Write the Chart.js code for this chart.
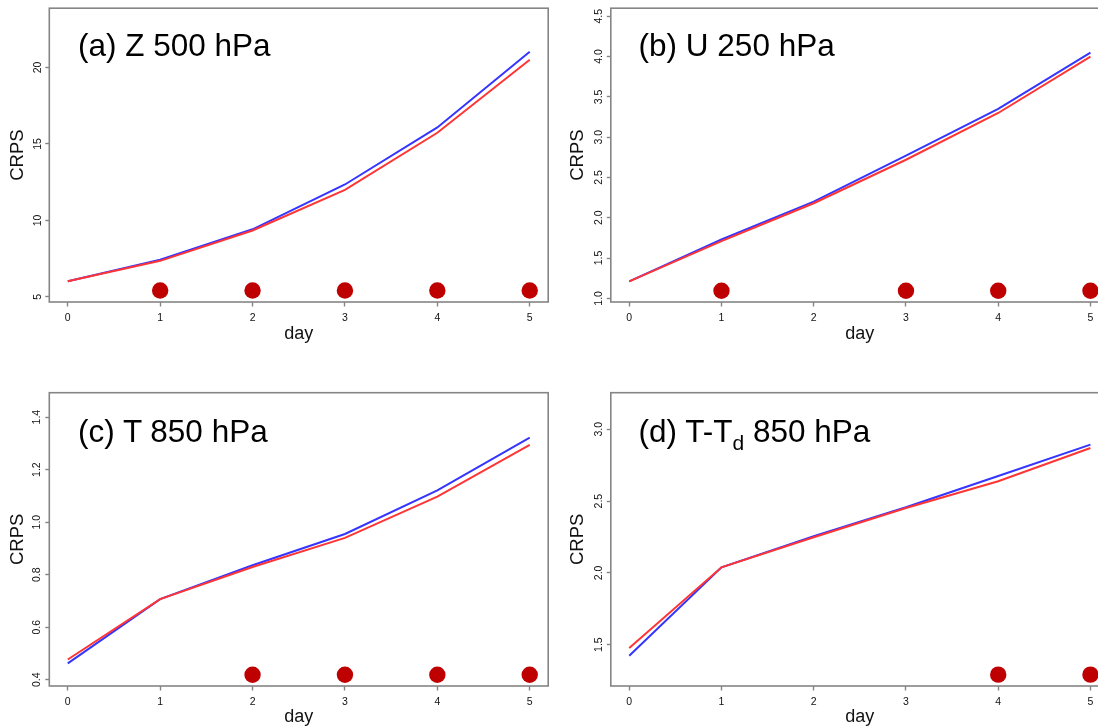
<!DOCTYPE html>
<html><head><meta charset="utf-8">
<script src="https://cdn.jsdelivr.net/npm/chart.js@4"></script>
<style>
html,body{margin:0;padding:0;background:#fff;overflow:hidden;width:1098px;height:728px;position:relative;}
canvas{position:absolute;}
.lbl{position:absolute;font-family:"Liberation Sans",Arial,sans-serif;font-size:31.5px;line-height:31.5px;color:#000;white-space:nowrap;}
.sub{font-size:21px;position:relative;top:8px;}
</style></head><body>
<canvas id="pa" width="560" height="364" style="left:0;top:0"></canvas>
<canvas id="pc" width="560" height="364" style="left:0;top:364px"></canvas>
<canvas id="pb" width="570" height="364" style="left:549px;top:0"></canvas>
<canvas id="pd" width="570" height="364" style="left:549px;top:364px"></canvas>
<div class="lbl" style="left:78px;top:30.3px">(a) Z 500 hPa</div>
<div class="lbl" style="left:638.6px;top:30.3px">(b) U 250 hPa</div>
<div class="lbl" style="left:78px;top:416px">(c) T 850 hPa</div>
<div class="lbl" style="left:638.6px;top:416px">(d) T-T<span class="sub">d</span> 850 hPa</div>
<script>
// ---- data ----
const days = [0, 1, 2, 3, 4, 5];
const xTicks = [0, 1, 2, 3, 4, 5];
const xTickLabels = ['0', '1', '2', '3', '4', '5'];

const zBlue = [6.02, 7.43, 9.42, 12.35, 16.08, 21.02];
const zRed  = [6.02, 7.36, 9.34, 12.00, 15.73, 20.50];
const zDotDays = [1, 2, 3, 4, 5];
const zDotLevel = 5.42;
const zTicks = [5, 10, 15, 20];
const zTickLabels = ['5', '10', '15', '20'];

const uBlue = [1.21, 1.73, 2.20, 2.77, 3.35, 4.05];
const uRed  = [1.21, 1.71, 2.18, 2.72, 3.30, 4.00];
const uDotDays = [1, 3, 4, 5];
const uDotLevel = 1.095;
const uTicks = [1.0, 1.5, 2.0, 2.5, 3.0, 3.5, 4.0, 4.5];
const uTickLabels = ['1.0', '1.5', '2.0', '2.5', '3.0', '3.5', '4.0', '4.5'];

const tBlue = [0.462, 0.707, 0.836, 0.955, 1.121, 1.322];
const tRed  = [0.477, 0.707, 0.829, 0.940, 1.097, 1.294];
const tDotDays = [2, 3, 4, 5];
const tDotLevel = 0.419;
const tTicks = [0.4, 0.6, 0.8, 1.0, 1.2, 1.4];
const tTickLabels = ['0.4', '0.6', '0.8', '1.0', '1.2', '1.4'];

const dBlue = [1.423, 2.039, 2.255, 2.457, 2.675, 2.893];
const dRed  = [1.477, 2.039, 2.248, 2.452, 2.638, 2.870];
const dDotDays = [4, 5];
const dDotLevel = 1.291;
const dTicks = [1.5, 2.0, 2.5, 3.0];
const dTickLabels = ['1.5', '2.0', '2.5', '3.0'];

// ---- drawing ----
const FONT = '"Liberation Sans", Arial, sans-serif';
const AXIS = '#858585';
const boxPlugin = {
  id: 'box',
  beforeDatasetsDraw(chart) {
    const a = chart.chartArea, ctx = chart.ctx;
    ctx.save();
    ctx.strokeStyle = AXIS;
    ctx.lineWidth = 1.6;
    ctx.strokeRect(a.left, a.top, a.right - a.left, a.bottom - a.top);
    ctx.restore();
  }
};

function panel(id, blue, red, dotDays, dotLevel, yTicks, yLabels, g) {
  const pts = v => days.map((d, i) => ({x: d, y: v[i]}));
  const canvas = document.getElementById(id);
  const W = canvas.width, H = canvas.height;
  new Chart(canvas, {
    type: 'line',
    data: {
      datasets: [
        {type: 'scatter', data: dotDays.map(d => ({x: d, y: dotLevel})),
         backgroundColor: '#bf0000', borderColor: '#bf0000', pointRadius: 8.2, pointBorderWidth: 0, order: 0},
        {data: pts(red), borderColor: '#ff3535', borderWidth: 2, pointRadius: 0, tension: 0, fill: false, order: 1},
        {data: pts(blue), borderColor: '#3535ff', borderWidth: 2, pointRadius: 0, tension: 0, fill: false, order: 2}
      ]
    },
    options: {
      responsive: false, animation: false, devicePixelRatio: 1,
      plugins: {legend: {display: false}, tooltip: {enabled: false}},
      layout: {padding: {left: 0, bottom: 0, top: g.top, right: W - g.right}},
      scales: {
        x: {
          type: 'linear', min: -0.2, max: 5.2,
          afterBuildTicks: s => { s.ticks = xTicks.map(v => ({value: v})); },
          afterFit: s => { s.height = H - g.bottom; s.paddingLeft = s.paddingRight = 0; },
          border: {display: false},
          grid: {drawOnChartArea: false, drawTicks: true, tickLength: 4.5, color: AXIS, tickColor: AXIS, tickWidth: 1.4},
          ticks: {autoSkip: false, maxRotation: 0, padding: 5, color: '#111',
                  font: {family: FONT, size: 10.5}, callback: (v, i) => xTickLabels[i]},
          title: {display: true, text: 'day', color: '#111', font: {family: FONT, size: 18},
                  padding: {top: 0, bottom: g.xTitlePad}}
        },
        y: {
          type: 'linear', min: g.yMin, max: g.yMax,
          afterBuildTicks: s => { s.ticks = yTicks.map(v => ({value: v})); },
          afterFit: s => { s.width = g.left; s.paddingTop = s.paddingBottom = 0; },
          border: {display: false},
          grid: {drawOnChartArea: false, drawTicks: true, tickLength: 4, color: AXIS, tickColor: AXIS, tickWidth: 1.4},
          ticks: {autoSkip: false, minRotation: 90, maxRotation: 90, crossAlign: 'center', padding: g.yTickPad,
                  color: '#111', font: {family: FONT, size: 10.5}, callback: (v, i) => yLabels[i]},
          title: {display: true, text: 'CRPS', color: '#111', font: {family: FONT, size: 18.5},
                  padding: {top: g.yTitlePad, bottom: 0}}
        }
      }
    },
    plugins: [boxPlugin]
  });
}

panel('pa', zBlue, zRed, zDotDays, zDotLevel, zTicks, zTickLabels,
  {left: 49.3, top: 7, right: 548.2, bottom: 302, yMin: 4.67, yMax: 23.87, xTitlePad: 19.4, yTitlePad: 6.8, yTickPad: 1.8});
panel('pb', uBlue, uRed, uDotDays, uDotLevel, uTicks, uTickLabels,
  {left: 61.8, top: 7.3, right: 559.9, bottom: 302, yMin: 0.955, yMax: 4.6, xTitlePad: 19.4, yTitlePad: 17.7, yTickPad: 0});
panel('pc', tBlue, tRed, tDotDays, tDotLevel, tTicks, tTickLabels,
  {left: 49.3, top: 28.7, right: 548.2, bottom: 322, yMin: 0.376, yMax: 1.493, xTitlePad: 0, yTitlePad: 6.8, yTickPad: 1});
panel('pd', dBlue, dRed, dDotDays, dDotLevel, dTicks, dTickLabels,
  {left: 61.8, top: 28.7, right: 559.9, bottom: 322, yMin: 1.212, yMax: 3.255, xTitlePad: 0, yTitlePad: 17.7, yTickPad: 0});
</script>
</body></html>
